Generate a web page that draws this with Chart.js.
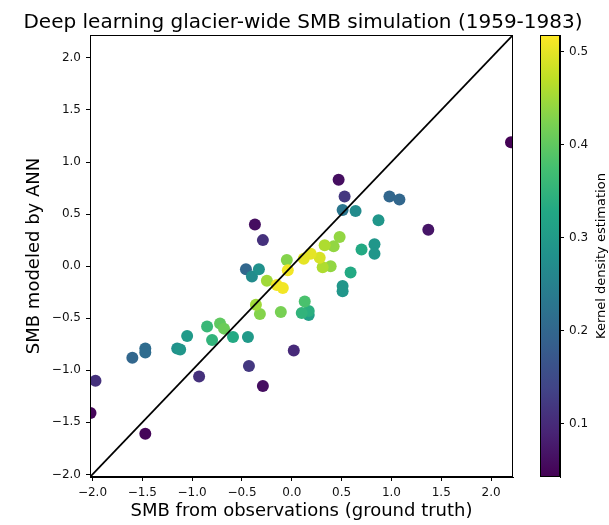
<!DOCTYPE html>
<html>
<head>
<meta charset="utf-8">
<script src="https://cdn.jsdelivr.net/npm/chart.js@4/dist/chart.umd.min.js"></script>
<style>
  html, body { margin: 0; padding: 0; background: #fff; }
  #wrap { position: relative; width: 609px; height: 525px; font-family: 'DejaVu Sans', sans-serif; }
  #main { position: absolute; left: 0; top: 0; }
  #cbar { position: absolute; left: 520px; top: 0; }
  #title { position: absolute; left: 0; top: 11px; width: 606px; text-align: center;
           font-size: 20px; line-height: 20px; color: #000; white-space: nowrap; }
</style>
</head>
<body>
<div id="wrap">
  <canvas id="main" width="609" height="525"></canvas>
  <canvas id="cbar" width="89" height="525"></canvas>
  <div id="title">Deep learning glacier-wide SMB simulation (1959-1983)</div>
</div>
<script>
// observed SMB (x), ANN-modelled SMB (y), kernel density (colour)
const obsX = [2.20, 0.47, 0.53, 0.98, 1.08, 0.51, 0.64, 0.87, -0.37, 1.37,
  -0.29, 0.48, 0.33, 0.42, 0.83, 0.83, 0.70, 0.19, 0.12, 0.28,
  -0.05, 0.31, 0.39, -0.04, -0.46, -0.33, -0.40, 0.59, -0.25, -0.15,
  -0.09, 0.51, 0.51, 0.13, -0.36, -0.32, -0.11, 0.10, 0.17, 0.17,
  -0.85, -0.72, -0.68, -1.05, -0.80, -0.59, -0.44, -1.15, -1.12, -1.47,
  -1.47, -1.60, 0.02, -0.43, -0.93, -0.29, -1.97, -2.02, -1.47];
const annY = [1.19, 0.83, 0.67, 0.67, 0.64, 0.54, 0.53, 0.44, 0.40, 0.35,
  0.25, 0.28, 0.20, 0.19, 0.21, 0.12, 0.16, 0.12, 0.07, 0.08,
  0.06, -0.01, 0.00, -0.04, -0.03, -0.03, -0.10, -0.06, -0.14, -0.18,
  -0.21, -0.19, -0.24, -0.34, -0.37, -0.46, -0.44, -0.45, -0.43, -0.47,
  -0.58, -0.55, -0.60, -0.67, -0.71, -0.68, -0.68, -0.79, -0.80, -0.79,
  -0.83, -0.88, -0.81, -0.96, -1.06, -1.15, -1.10, -1.41, -1.61];
const kde = [0.045, 0.06, 0.12, 0.20, 0.20, 0.23, 0.27, 0.29, 0.06, 0.07,
  0.11, 0.44, 0.46, 0.44, 0.29, 0.29, 0.33, 0.50, 0.50, 0.49,
  0.43, 0.46, 0.44, 0.51, 0.20, 0.28, 0.27, 0.33, 0.45, 0.51,
  0.51, 0.29, 0.29, 0.38, 0.45, 0.43, 0.42, 0.35, 0.34, 0.31,
  0.36, 0.40, 0.41, 0.30, 0.35, 0.33, 0.30, 0.28, 0.29, 0.21,
  0.21, 0.20, 0.10, 0.12, 0.11, 0.06, 0.11, 0.05, 0.05];

const axisLimits = [-2.025, 2.22];
const axisTicks = [-2.0, -1.5, -1.0, -0.5, 0.0, 0.5, 1.0, 1.5, 2.0];
const kdeLimits = [0.043, 0.518];
const kdeTicks = [0.1, 0.2, 0.3, 0.4, 0.5];

const VIRIDIS = ['#440154', '#482475', '#414487', '#355f8d', '#2a788e', '#21918c',
  '#22a884', '#44bf70', '#7ad151', '#bddf26', '#fde725'];

Chart.defaults.font.family = "'DejaVu Sans', sans-serif";

function hexRgb(h) {
  return [1, 3, 5].map(i => parseInt(h.slice(i, i + 2), 16));
}

function viridis(v) {
  let t = (v - kdeLimits[0]) / (kdeLimits[1] - kdeLimits[0]);
  t = Math.max(0, Math.min(1, t)) * (VIRIDIS.length - 1);
  const i = Math.min(Math.floor(t), VIRIDIS.length - 2);
  const f = t - i;
  const a = hexRgb(VIRIDIS[i]), b = hexRgb(VIRIDIS[i + 1]);
  const c = a.map((x, k) => Math.round(x + (b[k] - x) * f));
  return `rgb(${c[0]},${c[1]},${c[2]})`;
}

const fmt = v => v.toFixed(1).replace('-', '\u2212');

// densest points drawn last, on top
const order = kde.map((_, i) => i).sort((a, b) => kde[a] - kde[b]);
const points = order.map(i => ({ x: obsX[i], y: annY[i] }));
const colors = order.map(i => viridis(kde[i]));

const frame = {
  id: 'frame',
  afterDatasetsDraw(chart) {
    const { ctx, chartArea: a } = chart;
    ctx.save();
    ctx.strokeStyle = '#000';
    ctx.lineWidth = 1;
    ctx.strokeRect(a.left + 0.5, a.top + 0.5, a.right - a.left - 1, a.bottom - a.top - 1);
    ctx.restore();
  }
};

const axisOpts = (title, fitFn, titlePad) => ({
  type: 'linear',
  min: axisLimits[0],
  max: axisLimits[1],
  afterFit: fitFn,
  afterBuildTicks: s => { s.ticks = axisTicks.map(v => ({ value: v })); },
  grid: { drawOnChartArea: false, tickLength: 4, tickColor: '#000', tickWidth: 1 },
  border: { color: '#000', width: 1 },
  ticks: { color: '#111', font: { size: 12 }, padding: 5, maxRotation: 0, callback: fmt },
  title: { display: true, text: title, color: '#000', font: { size: 18 }, padding: titlePad }
});

new Chart(document.getElementById('main'), {
  type: 'scatter',
  data: {
    datasets: [
      {
        data: axisLimits.map(v => ({ x: v, y: v })),
        showLine: true,
        borderColor: '#000',
        borderWidth: 1.8,
        pointRadius: 0,
        clip: 0,
        order: 0
      },
      {
        data: points,
        backgroundColor: colors,
        pointRadius: 6,
        pointHoverRadius: 6,
        borderWidth: 0,
        clip: 0,
        order: 1
      }
    ]
  },
  options: {
    responsive: false,
    animation: false,
    layout: { padding: { top: 35, right: 96, left: 0, bottom: 0 } },
    plugins: { legend: { display: false }, tooltip: { enabled: false } },
    scales: {
      x: axisOpts('SMB from observations (ground truth)', s => { s.height = 48; }, { top: 0, bottom: 3 }),
      y: axisOpts('SMB modeled by ANN', s => { s.width = 90; }, { top: 24, bottom: 0 })
    }
  },
  plugins: [frame]
});

const cbLabel = {
  id: 'cbLabel',
  afterDraw(chart) {
    const { ctx, chartArea: a } = chart;
    ctx.save();
    ctx.strokeStyle = '#000';
    ctx.lineWidth = 1;
    ctx.strokeRect(a.left + 0.5, a.top + 0.5, a.right - a.left - 1, a.bottom - a.top - 1);
    ctx.translate(82, (a.top + a.bottom) / 2);
    ctx.rotate(-Math.PI / 2);
    ctx.fillStyle = '#000';
    ctx.font = "13px 'DejaVu Sans', sans-serif";
    ctx.textAlign = 'center';
    ctx.textBaseline = 'middle';
    ctx.fillText('Kernel density estimation', 0, 0);
    ctx.restore();
  }
};

new Chart(document.getElementById('cbar'), {
  type: 'bar',
  data: {
    labels: [''],
    datasets: [{
      data: [kdeLimits],
      backgroundColor: c => {
        const { ctx, chartArea } = c.chart;
        if (!chartArea) return '#21918c';
        const g = ctx.createLinearGradient(0, chartArea.bottom, 0, chartArea.top);
        VIRIDIS.forEach((col, i) => g.addColorStop(i / (VIRIDIS.length - 1), col));
        return g;
      },
      borderWidth: 0,
      barPercentage: 1,
      categoryPercentage: 1
    }]
  },
  options: {
    responsive: false,
    animation: false,
    layout: { padding: { top: 35, right: 0, left: 20, bottom: 48 } },
    plugins: { legend: { display: false }, tooltip: { enabled: false } },
    scales: {
      x: { display: false },
      y: {
        position: 'right',
        min: kdeLimits[0],
        max: kdeLimits[1],
        afterFit: s => { s.width = 49; },
        afterBuildTicks: s => { s.ticks = kdeTicks.map(v => ({ value: v })); },
        grid: { drawOnChartArea: false, tickLength: 4, tickColor: '#000' },
        border: { color: '#000' },
        ticks: { color: '#111', font: { size: 12 }, padding: 5, callback: v => v.toFixed(1) }
      }
    }
  },
  plugins: [cbLabel]
});
</script>
</body>
</html>
